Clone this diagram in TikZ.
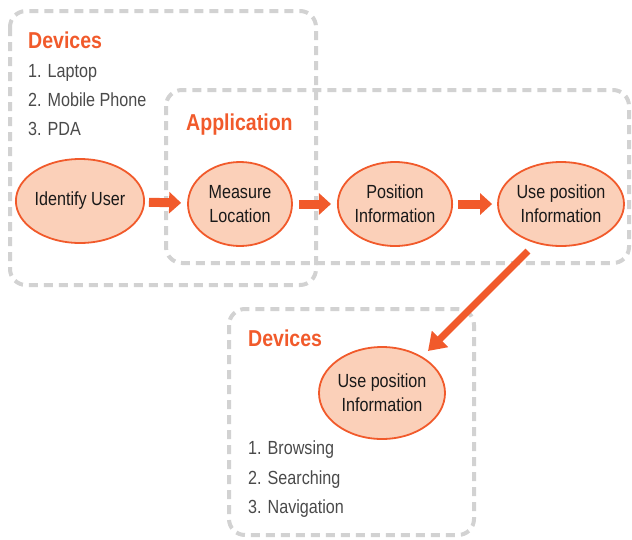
\documentclass[tikz,border=0pt]{standalone}
\usepackage{fontspec}
\setmainfont{Liberation Sans}[FakeStretch=0.85]
\usetikzlibrary{shapes.geometric,arrows.meta,calc}
\definecolor{orng}{HTML}{F15A2B}
\definecolor{peach}{HTML}{FBD0B9}
\definecolor{dgray}{HTML}{D2D2D2}
\definecolor{txtgray}{HTML}{4A4A4A}
\begin{document}
\begin{tikzpicture}[x=1pt,y=-1pt,
  groupbox/.style={draw=dgray,line width=4pt,dash pattern=on 9pt off 6pt,rounded corners=16pt},
  ell/.style={ellipse,draw=orng,fill=peach,line width=1.8pt,inner sep=0pt,
    minimum width=#1,minimum height=84pt,align=center,font=\fontsize{19}{24}\selectfont,text=black!90},
  ell/.default=126pt,
  title/.style={anchor=base west,inner sep=0pt,text=orng,font=\fontsize{23}{27}\selectfont\bfseries},
  item/.style={anchor=base west,inner sep=0pt,text=txtgray,font=\fontsize{19}{23}\selectfont},
  blockarrow/.style={draw=orng,line width=9pt,-{Triangle[length=12pt,width=21pt]},shorten <=#1},
  bigarrow/.style={draw=orng,line width=7pt,-{Triangle[length=17pt,width=22pt]}}
]
\useasboundingbox (0,0) rectangle (632,539);
% group boxes
\draw[groupbox] (10,11) rectangle (316,285);
\draw[groupbox] (166,90) rectangle (629,263);
\draw[groupbox] (229,309) rectangle (474,535);
% titles and lists
\node[title] (t1) at (28,48) {Devices};
\node[item] (l1) at (28,77) {1. Laptop};
\node[item] (l2) at (28,106) {2. Mobile Phone};
\node[item] (l3) at (28,135) {3. PDA};
\node[title] (t2) at (186,130) {Application};
\node[title] (t3) at (248,346) {Devices};
\node[item] (b1) at (248,454) {1. Browsing};
\node[item] (b2) at (248,484) {2. Searching};
\node[item] (b3) at (248,513) {3. Navigation};
% ellipses
\node[ell=126pt] (idu) at (80,201) {Identify User};
\node[ell=104pt] (meas) at (240,204) {Measure\\Location};
\node[ell=112pt] (pos) at (395,204) {Position\\Information};
\node[ell=126pt] (use) at (561,204) {Use position\\Information};
\node[ell=126pt,minimum height=92pt] (devuse) at (382,393) {Use position\\Information};
% arrows
\draw[blockarrow=4pt,shorten >=6pt] (idu) -- (meas);
\draw[blockarrow=6pt,shorten >=6pt] (meas) -- (pos);
\draw[blockarrow=5pt,shorten >=5pt] (pos) -- (use);
\coordinate (s) at ($(use)+(-33,47)$);
\coordinate (e) at ($(devuse)+(46,-42)$);
\draw[bigarrow] (s) -- (e);
\end{tikzpicture}
\end{document}
